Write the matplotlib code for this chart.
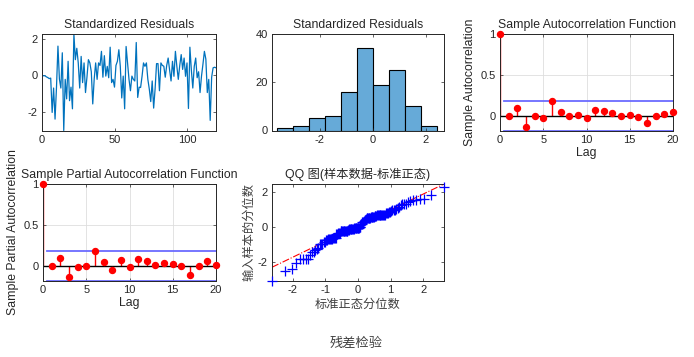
import numpy as np
import matplotlib
matplotlib.use("Agg")
import matplotlib.pyplot as plt
from statistics import NormalDist

# residual series (t = 1..120)
resid = [
    -0.02, -0.02, -0.08, -0.12, -0.18, -0.15, -2.05, -0.70, -2.42, -0.65,
    1.62, -0.20, -0.70, 1.25, -3.05, -0.22, -1.30, 0.78, -1.40, -0.65,
    -1.85, 2.29, 0.87, 1.50, 0.69, -0.70, 1.05, -0.40, 0.69, -0.95,
    -0.10, 0.87, 0.69, 0.20, -1.58, -0.20, 0.69, -0.22, 0.69, 0.55,
    1.33, -0.10, 1.09, -0.04, 0.50, -0.13, 1.56, -0.40, -0.22, -0.65,
    0.55, 0.78, 1.42, 0.50, -1.25, -0.04, -1.85, 1.60, 0.69, -0.22,
    -0.85, -0.04, -0.22, -0.31, 1.82, -1.22, -0.65, -0.67, -0.05, 0.69,
    0.50, 0.69, -0.22, -0.76, -1.45, -0.31, -1.81, -0.75, 0.65, 0.65,
    -0.85, 0.69, 0.55, 0.51, -0.10, 0.55, 0.96, 0.30, -0.31, 0.78,
    -0.05, 1.33, 0.50, -0.22, 0.55, 1.15, 0.33, 0.96, -0.05, 0.69,
    -1.83, 1.56, 0.30, -0.70, 0.50, 0.96, -0.13, 0.20, -0.95, -0.04,
    0.62, 1.33, 0.90, -0.95, -0.22, -2.49, -0.10, 0.42, 0.45, 0.42,
]
hist_edges = [-3.6, -3.0, -2.4, -1.8, -1.2, -0.6, 0.0, 0.6, 1.2, 1.8, 2.4]

lags = list(range(21))
acf_vals = [1.0, 0.0, 0.09, -0.145, -0.01, -0.03, 0.18, 0.04, -0.01, 0.01, -0.03,
            0.07, 0.06, 0.035, 0.0, 0.01, -0.015, -0.09, 0.0, 0.025, 0.045]
pacf_vals = [1.0, 0.0, 0.09, -0.145, -0.015, -0.005, 0.18, 0.04, -0.05, 0.065, -0.015,
             0.08, 0.06, 0.01, 0.03, 0.015, -0.01, -0.12, -0.01, 0.06, 0.005]

plt.rcParams['font.family'] = ['Liberation Sans', 'Noto Sans CJK SC', 'DejaVu Sans']
plt.rcParams['axes.linewidth'] = 0.7
plt.rcParams['axes.unicode_minus'] = False
plt.rcParams['text.color'] = '#262626'

TXT = '#262626'
CJK = ['Noto Sans CJK SC', 'DejaVu Sans']
TICK_FS = 8
LAB_FS = 8.8

fig = plt.figure(figsize=(6.94, 3.57), dpi=100)

W, H = 694.0, 357.0
def box(x0, y0, x1, y1):
    # pixel box (top-left origin) -> figure fraction
    return [x0 / W, 1 - y1 / H, (x1 - x0) / W, (y1 - y0) / H]

def style(ax):
    ax.tick_params(direction='in', length=2.5, width=0.5, top=True, right=True,
                   labelsize=TICK_FS, colors=TXT, pad=3)
    for s in ax.spines.values():
        s.set_color(TXT)

# standardized residuals time series
ax1 = fig.add_axes(box(42, 34, 216, 130.5))
t = np.arange(1, len(resid) + 1)
ax1.plot(t, resid, color='#0072BD', lw=0.9)
ax1.set_xlim(0, 120)
ax1.set_ylim(min(resid), max(resid))
ax1.set_xticks([0, 50, 100])
ax1.set_yticks([-2, 0, 2])
ax1.set_title('Standardized Residuals', fontsize=LAB_FS, pad=4)
style(ax1)

# histogram
ax2 = fig.add_axes(box(272, 34, 444, 130.5))
ax2.hist(resid, bins=hist_edges, color=(0.4, 0.667, 0.847), edgecolor='black', linewidth=0.8)
ax2.set_xlim(-3.8, 2.68)
ax2.set_ylim(0, 40)
ax2.set_xticks([-2, 0, 2])
ax2.set_yticks([0, 20, 40])
ax2.set_title('Standardized Residuals', fontsize=LAB_FS, pad=4)
style(ax2)

bound = 2 / np.sqrt(len(resid))

def corr_panel(ax, vals, title, ylabel):
    ax.grid(True, color='#dedede', lw=0.6)
    ax.set_axisbelow(True)
    ax.plot([0.5, 20], [bound, bound], color=(0.42, 0.42, 1.0), lw=1.3, clip_on=False, zorder=2)
    ax.plot([0.5, 20], [-bound, -bound], color=(0.42, 0.42, 1.0), lw=1.3, clip_on=False, zorder=2)
    mk, st, base = ax.stem(lags, vals, linefmt='r-', markerfmt='ro', basefmt='k-')
    mk.set_markersize(4.3)
    mk.set_clip_on(False)
    mk.set_zorder(4)
    st.set_linewidth(1.0)
    base.set_color('black')
    base.set_linewidth(1.0)
    ax.set_xlim(0, 20)
    ax.set_ylim(-bound, 1)
    ax.set_xticks([0, 5, 10, 15, 20])
    ax.set_yticks([0, 0.5, 1])
    ax.set_yticklabels(['0', '0.5', '1'])
    ax.set_title(title, fontsize=LAB_FS, pad=4)
    ax.set_xlabel('Lag', fontsize=LAB_FS, color=TXT, labelpad=2)
    ax.set_ylabel(ylabel, fontsize=LAB_FS, color=TXT, labelpad=3)
    style(ax)

ax3 = fig.add_axes(box(500, 34, 673, 130.5))
corr_panel(ax3, acf_vals, 'Sample Autocorrelation Function', 'Sample Autocorrelation')

ax4 = fig.add_axes(box(43, 184, 216, 280.5))
corr_panel(ax4, pacf_vals, 'Sample Partial Autocorrelation Function', 'Sample Partial Autocorrelation')

# QQ plot against standard normal
ax5 = fig.add_axes(box(272, 184, 444, 280.5))
n = len(resid)
ys = np.sort(resid)
nd = NormalDist()
xs = np.array([nd.inv_cdf((i - 0.5) / n) for i in range(1, n + 1)])
q1, q3 = np.percentile(ys, [25, 75], method='hazen')
z1, z3 = nd.inv_cdf(0.25), nd.inv_cdf(0.75)
slope = (q3 - q1) / (z3 - z1)
mid = (q1 + q3) / 2
xl = np.array([xs[0], xs[-1]])
yl = mid + slope * xl
ax5.plot(xl, yl, color='red', ls='-.', lw=0.8, zorder=2)
ax5.plot(xs, ys, '+', color='blue', ms=7, mew=0.9, clip_on=False, zorder=3)
ax5.set_xlim(xs[0], xs[-1])
ax5.set_ylim(min(ys[0], yl[0]), max(ys[-1], yl[-1]))
ax5.set_xticks([-2, -1, 0, 1, 2])
ax5.set_yticks([-2, 0, 2])
ax5.set_title('QQ 图(样本数据-标准正态)', fontsize=LAB_FS, pad=4)
ax5.set_xlabel('标准正态分位数', fontsize=LAB_FS, family=CJK, color='#404040', labelpad=2)
ax5.set_ylabel('输入样本的分位数', fontsize=LAB_FS, family=CJK, color='#404040', labelpad=2)
style(ax5)

fig.text(356 / W, 1 - 343 / H, '残差检验', ha='center', va='center',
         fontsize=9.5, family=CJK, color='#404040')

fig.savefig('out.png', dpi=100)
